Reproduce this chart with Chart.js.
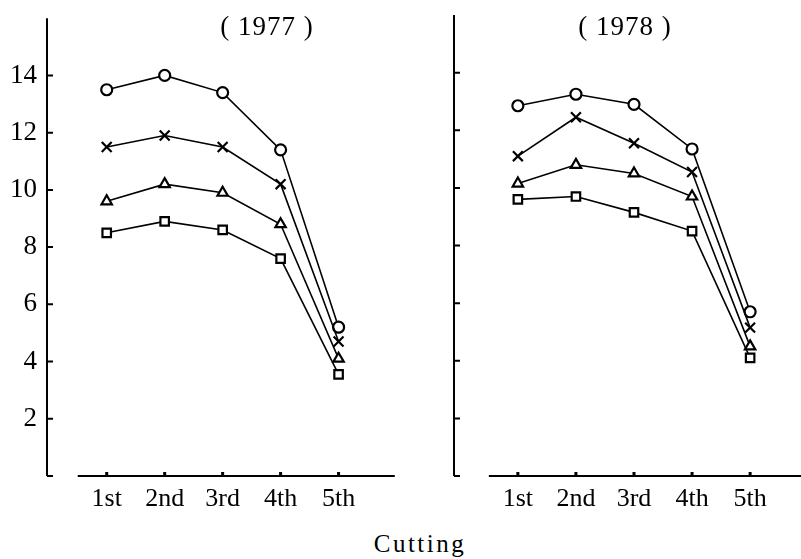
<!DOCTYPE html>
<html>
<head>
<meta charset="utf-8">
<script src="https://cdn.jsdelivr.net/npm/chart.js@4.4.0/dist/chart.umd.min.js"></script>
<style>
  body { margin: 0; background: #fff; }
  #wrap { position: relative; width: 801px; height: 559px; overflow: hidden; background: #fff;
          font-family: "Liberation Serif", "Times New Roman", serif; color: #000; }
  canvas { position: absolute; top: 0; }
  .title { position: absolute; top: 11px; width: 200px; text-align: center; font-size: 27px; letter-spacing: 1px; }
  #xlabel { position: absolute; top: 530px; left: 320px; width: 200px; text-align: center; font-size: 25px; letter-spacing: 2.5px; }
</style>
</head>
<body>
<div id="wrap">
  <canvas id="chart1977" width="404" height="520" style="left:0"></canvas>
  <canvas id="chart1978" width="404" height="520" style="left:407px"></canvas>
  <div class="title" style="left:167px">( 1977 )</div>
  <div class="title" style="left:525px">( 1978 )</div>
  <div id="xlabel">Cutting</div>
</div>
<script>
const cuts = ['1st', '2nd', '3rd', '4th', '5th'];
const yTickMarks = [0, 2, 4, 6, 8, 10, 12, 14];
const yTickLabels = [2, 4, 6, 8, 10, 12, 14];

// 1977
const circle1977 = [13.5, 14.0, 13.4, 11.4, 5.2];
const cross1977 = [11.5, 11.9, 11.5, 10.2, 4.7];
const triangle1977 = [9.6, 10.2, 9.9, 8.8, 4.1];
const square1977 = [8.5, 8.9, 8.6, 7.6, 3.55];

// 1978
const circle1978 = [12.85, 13.25, 12.9, 11.35, 5.7];
const cross1978 = [11.1, 12.45, 11.55, 10.55, 5.15];
const triangle1978 = [10.15, 10.8, 10.5, 9.7, 4.5];
const square1978 = [9.6, 9.7, 9.15, 8.5, 4.1];

const axisMarks = {
    id: 'axisMarks',
    beforeDatasetsDraw(chart) {
        const { ctx, chartArea: a, scales: { x, y } } = chart;
        ctx.save();
        ctx.strokeStyle = '#000';
        ctx.lineWidth = 2;
        ctx.beginPath();
        ctx.moveTo(a.left, a.top);
        ctx.lineTo(a.left, a.bottom);
        ctx.moveTo(x.getPixelForValue(0.5), a.bottom);
        ctx.lineTo(a.right, a.bottom);
        yTickMarks.forEach(v => {
            const py = y.getPixelForValue(v);
            ctx.moveTo(a.left, py);
            ctx.lineTo(a.left + 6, py);
        });
        ctx.stroke();
        ctx.lineWidth = 3;
        ctx.beginPath();
        cuts.forEach((c, i) => {
            const px = x.getPixelForValue(i + 1);
            ctx.moveTo(px, a.bottom);
            ctx.lineTo(px, a.bottom - 4);
        });
        ctx.stroke();
        ctx.restore();
    }
};

function series(values, style, radius) {
    return {
        data: values.map((v, i) => ({ x: i + 1, y: v })),
        borderColor: '#000',
        borderWidth: 1.6,
        pointStyle: style,
        pointRadius: radius,
        pointBorderWidth: 2.2,
        pointBorderColor: '#000',
        pointBackgroundColor: '#fff',
        fill: false,
        tension: 0
    };
}

function renderChart(id, sets, xMin, xMax, showYLabels) {
    const ctx = document.getElementById(id).getContext('2d');
    return new Chart(ctx, {
        type: 'line',
        data: {
            datasets: [
                series(sets[3], 'rect', 6),
                series(sets[2], 'triangle', 6),
                series(sets[1], 'crossRot', 7),
                series(sets[0], 'circle', 5.5)
            ]
        },
        options: {
            responsive: false,
            animation: false,
            devicePixelRatio: 1,
            layout: { padding: { top: 15, right: 0, left: 0, bottom: 0 } },
            plugins: { legend: { display: false }, tooltip: { enabled: false } },
            scales: {
                x: {
                    type: 'linear',
                    min: xMin,
                    max: xMax,
                    grid: { display: false },
                    border: { display: false },
                    afterBuildTicks: s => { s.ticks = cuts.map((c, i) => ({ value: i + 1 })); },
                    afterFit: s => { s.height = 44; },
                    ticks: {
                        color: '#000',
                        padding: 0,
                        maxRotation: 0,
                        font: { family: '"Liberation Serif", serif', size: 26 },
                        callback: v => cuts[v - 1]
                    }
                },
                y: {
                    min: 0,
                    max: 16,
                    grid: { display: false },
                    border: { display: false },
                    afterBuildTicks: s => { s.ticks = yTickLabels.map(v => ({ value: v })); },
                    afterFit: s => { s.width = 47; },
                    ticks: {
                        display: showYLabels,
                        color: '#000',
                        padding: 2,
                        font: { family: '"Liberation Serif", serif', size: 27 }
                    }
                }
            }
        },
        plugins: [axisMarks]
    });
}

renderChart('chart1977', [circle1977, cross1977, triangle1977, square1977], -0.03, 5.97, true);
renderChart('chart1978', [circle1978, cross1978, triangle1978, square1978], -0.1, 5.89, false);
</script>
</body>
</html>
